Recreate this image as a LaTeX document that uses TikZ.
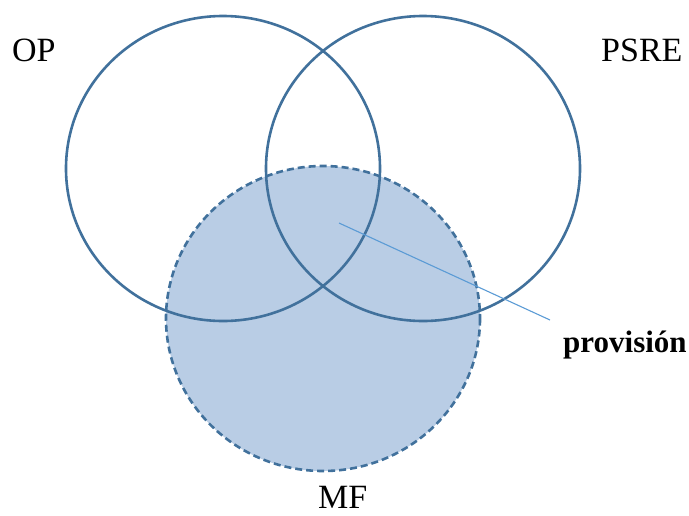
\documentclass[tikz,border=0pt]{standalone}
\usepackage{fontspec}
\setmainfont{Liberation Serif}
\definecolor{ringblue}{HTML}{41719C}
\definecolor{fillblue}{HTML}{B9CDE5}
\definecolor{lineblue}{HTML}{5B9BD5}
\begin{document}
\begin{tikzpicture}[x=1pt,y=-1pt,
  ring/.style={draw=ringblue,line width=2.6pt},
  mfring/.style={draw=ringblue,fill=fillblue,line width=2.6pt,dash pattern=on 7pt off 4pt},
  lbl/.style={anchor=base west,inner sep=0pt,font=\fontsize{34}{40}\selectfont},
  blbl/.style={anchor=base west,inner sep=0pt,font=\fontsize{31}{36}\selectfont\bfseries}]
\useasboundingbox (0,0) rectangle (689,515);
\path[mfring] (323,318.5) ellipse [x radius=157, y radius=152.5];
\path[ring] (223,168.5) ellipse [x radius=157, y radius=152.5];
\path[ring] (423,168.5) ellipse [x radius=157, y radius=152.5];
\coordinate (s) at (339,223);
\coordinate (e) at (550,320);
\draw[lineblue,line width=1.1pt] (s) -- (e);
\node[lbl] (op) at (12,61) {OP};
\node[lbl] (psre) at (601,61) {PSRE};
\node[lbl] (mf) at (318,508) {MF};
\node[blbl] (prov) at (563,352) {provisión};
\end{tikzpicture}
\end{document}
